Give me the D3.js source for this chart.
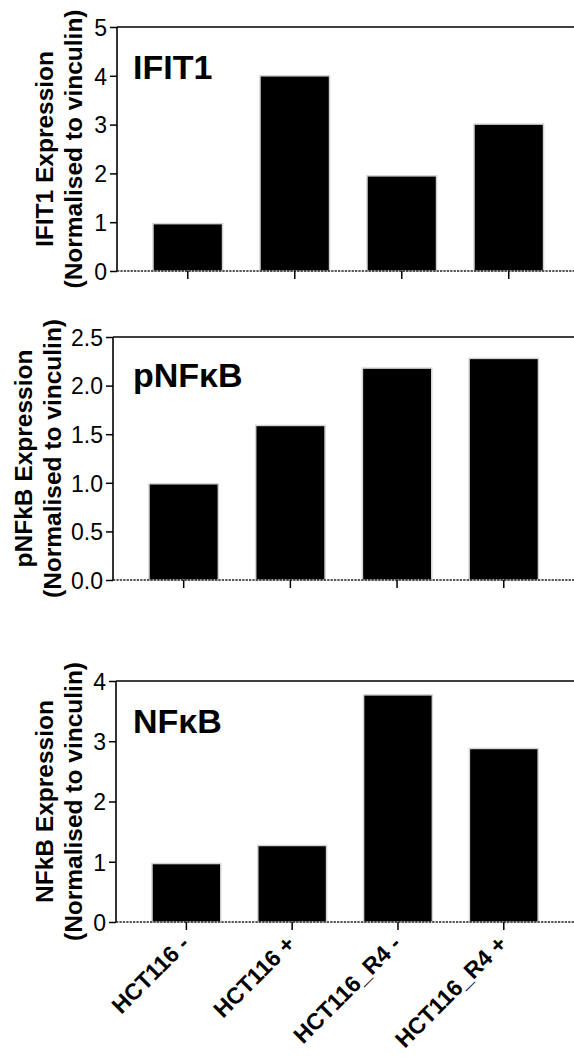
<!DOCTYPE html>
<html>
<head>
<meta charset="utf-8">
<script src="https://cdnjs.cloudflare.com/ajax/libs/d3/7.8.5/d3.min.js"></script>
<style>
  html, body { margin: 0; padding: 0; background: #fff; }
  svg { display: block; font-family: "Liberation Sans", Arial, sans-serif; }
</style>
</head>
<body>
<svg id="chart" width="574" height="1057"></svg>
<script>
var categories = ["HCT116 -", "HCT116 +", "HCT116_R4 -", "HCT116_R4 +"];
var ifit1Values = [0.97, 4.0, 1.95, 3.01];
var pnfkbValues = [0.99, 1.59, 2.18, 2.28];
var nfkbValues = [0.97, 1.27, 3.77, 2.88];
var ifit1Ticks = [0, 1, 2, 3, 4, 5];
var pnfkbTicks = [0, 0.5, 1.0, 1.5, 2.0, 2.5];
var nfkbTicks = [0, 1, 2, 3, 4];

var panels = [
  { title: "IFIT1", ylab: "IFIT1 Expression", values: ifit1Values, ticks: ifit1Ticks, fmt: "d",
    top: 27, bottom: 271, axisX: 117, step: 107, lab1: 53, lab2: 82, titleY: 79 },
  { title: "pNF\u03baB", ylab: "pNFkB Expression", values: pnfkbValues, ticks: pnfkbTicks, fmt: ".1f",
    top: 337, bottom: 580, axisX: 113, step: 106.7, lab1: 32, lab2: 61, titleY: 387 },
  { title: "NF\u03baB", ylab: "NFkB Expression", values: nfkbValues, ticks: nfkbTicks, fmt: "d",
    top: 681, bottom: 922, axisX: 116, step: 105.8, lab1: 53, lab2: 82, titleY: 733, xlabels: true }
];

var svg = d3.select("#chart");
var W = 574;

panels.forEach(function (p) {
  var g = svg.append("g");
  var ymax = p.ticks[p.ticks.length - 1];
  var y = d3.scaleLinear().domain([0, ymax]).range([p.bottom, p.top]);
  // first bar starts ~36px right of the y axis
  var x0 = p.axisX + 36 - p.step * 0.175;
  var x = d3.scaleBand().domain(categories)
    .range([x0, x0 + p.step * 4])
    .paddingInner(0.35).paddingOuter(0.175);

  // top frame line
  g.append("line")
    .attr("x1", p.axisX).attr("x2", W)
    .attr("y1", y(ymax)).attr("y2", y(ymax))
    .attr("stroke", "#000").attr("stroke-width", 1.6);

  // bars
  g.selectAll("rect").data(p.values).enter().append("rect")
    .attr("x", function (d, i) { return x(categories[i]); })
    .attr("width", x.bandwidth())
    .attr("y", function (d) { return y(d); })
    .attr("height", function (d) { return y(0) - y(d); })
    .attr("fill", "#000")
    .attr("stroke", "#d4d4d4")
    .attr("stroke-width", 1.5);

  // dotted zero line
  g.append("line")
    .attr("x1", p.axisX).attr("x2", W)
    .attr("y1", y(0)).attr("y2", y(0))
    .attr("stroke", "#222").attr("stroke-width", 1.5)
    .attr("stroke-dasharray", "2.3,1.1");

  // y axis
  var yAxis = d3.axisLeft(y).tickValues(p.ticks).tickFormat(d3.format(p.fmt))
    .tickSize(7).tickPadding(3);
  var ya = g.append("g").attr("transform", "translate(" + p.axisX + ",0)").call(yAxis);
  ya.attr("font-size", 23).attr("font-family", null);
  ya.select(".domain").attr("stroke-width", 1.6).attr("d", "M0," + p.bottom + "V" + p.top);
  ya.selectAll(".tick line").attr("stroke-width", 1.5);
  ya.selectAll("text").attr("fill", "#000").attr("dy", "0.36em");

  // x ticks
  var xAxis = d3.axisBottom(x).tickSize(8).tickFormat("");
  var xa = g.append("g").attr("transform", "translate(0," + p.bottom + ")").call(xAxis);
  xa.select(".domain").remove();
  xa.selectAll(".tick line").attr("stroke-width", 1.5);

  if (p.xlabels) {
    xa.selectAll(".tick").append("text")
      .attr("transform", "translate(-7,12) rotate(-45)")
      .attr("text-anchor", "end")
      .attr("font-size", 23)
      .attr("font-family", "Liberation Sans, Arial, sans-serif")
      .attr("font-weight", "bold")
      .attr("fill", "#000")
      .attr("dy", "0.7em")
      .text(function (d) { return d; });
  }

  // title inside plot
  g.append("text")
    .attr("x", 133).attr("y", p.titleY)
    .attr("font-size", 34).attr("font-weight", "bold")
    .text(p.title);

  // y labels
  var cy = (p.top + p.bottom) / 2;
  g.append("text")
    .attr("transform", "translate(" + p.lab1 + "," + cy + ") rotate(-90)")
    .attr("text-anchor", "middle").attr("font-size", 24.5).attr("font-weight", "bold")
    .text(p.ylab);
  g.append("text")
    .attr("transform", "translate(" + p.lab2 + "," + cy + ") rotate(-90)")
    .attr("text-anchor", "middle").attr("font-size", 24.5).attr("font-weight", "bold")
    .text("(Normalised to vinculin)");
});
</script>
</body>
</html>
